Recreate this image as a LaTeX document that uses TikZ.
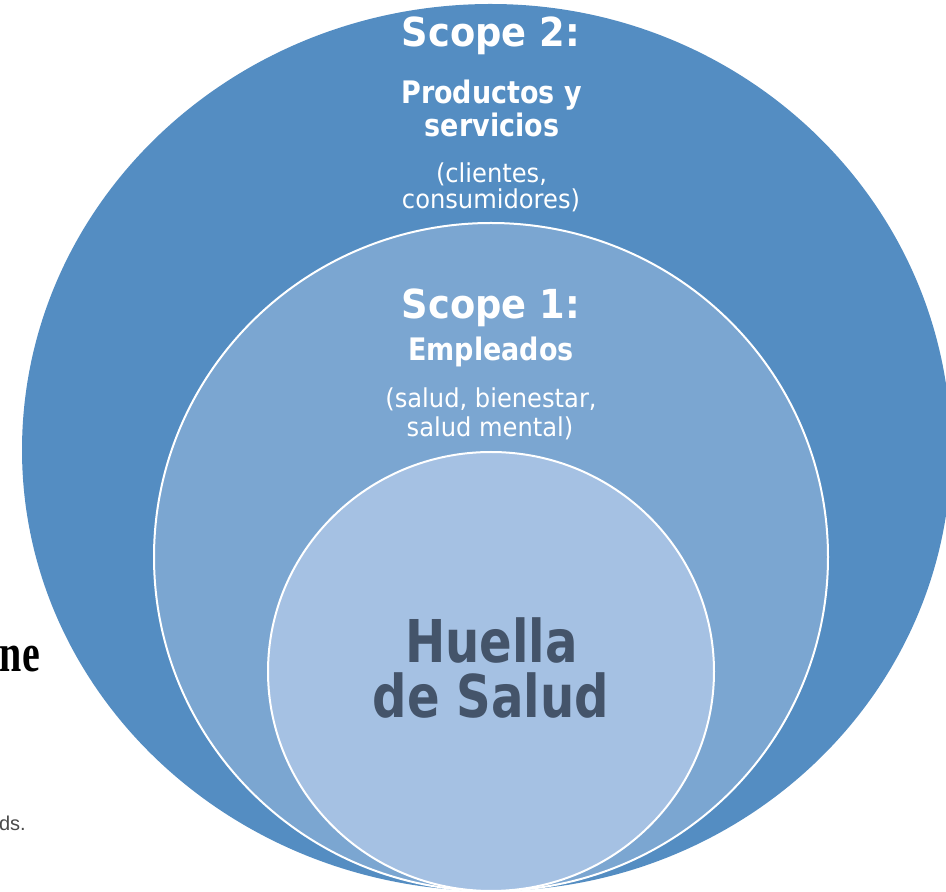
\documentclass[tikz,border=0pt]{standalone}
\usepackage{fontspec}
\setmainfont{DejaVu Sans}
\newfontfamily\scopefnt[FakeStretch=0.92]{DejaVu Sans}
\newfontfamily\subfnt[FakeStretch=0.87]{DejaVu Sans}
\newfontfamily\regfnt[FakeStretch=0.93]{DejaVu Sans}
\newfontfamily\huefont[FakeStretch=0.816]{DejaVu Sans}
\newfontfamily\nefont[FakeStretch=0.74]{Liberation Serif}
\newfontfamily\dsfont{Liberation Sans}
\definecolor{outerc}{HTML}{548DC2}
\definecolor{midc}{HTML}{7BA6D1}
\definecolor{innc}{HTML}{A5C1E3}
\definecolor{huec}{HTML}{44546A}
\definecolor{dsc}{HTML}{4A4A4A}
\begin{document}
\begin{tikzpicture}[x=1pt,y=1pt,
  txt/.style={inner sep=0pt, anchor=base, text=white},
  scopefont/.style={font=\scopefnt\fontsize{40pt}{43pt}\selectfont\bfseries},
  subfont/.style={font=\subfnt\fontsize{31pt}{33pt}\selectfont\bfseries},
  regfont/.style={font=\regfnt\fontsize{26pt}{28pt}\selectfont},
  huefnt/.style={font=\huefont\fontsize{59pt}{62pt}\selectfont\bfseries},
  ring/.style={draw=white, line width=2pt}]
\useasboundingbox (0,0) rectangle (946,892);
\clip (0,0) rectangle (946,892);
% outer shape
\fill[outerc] (22,442) arc[start angle=180,end angle=90,x radius=469,y radius=446]
  arc[start angle=90,end angle=0,x radius=460,y radius=446]
  arc[start angle=0,end angle=-90,x radius=460,y radius=441]
  arc[start angle=270,end angle=180,x radius=469,y radius=441] -- cycle;
% middle and inner
\filldraw[ring, fill=midc] (491,335) ellipse[x radius=337, y radius=334];
\filldraw[ring, fill=innc] (491,220.5) ellipse[x radius=223, y radius=219.5];
% scope 2 texts
\node[txt, scopefont] (scopeA) at (491,845) {Scope 2:};
\node[txt, subfont] (prodA) at (491.5,788) {Productos y};
\node[txt, subfont] (prodB) at (492,755) {servicios};
\node[txt, regfont] (cliA) at (491.5,709) {(clientes,};
\node[txt, regfont] (cliB) at (491,683) {consumidores)};
% scope 1 texts
\node[txt, scopefont] (scopeB) at (491,573) {Scope 1:};
\node[txt, subfont] (empl) at (491,531) {Empleados};
\node[txt, regfont] (salA) at (491,484) {(salud, bienestar,};
\node[txt, regfont] (salB) at (490,455) {salud mental)};
% core
\node[txt, huefnt, text=huec] (hueA) at (491.5,229) {Huella};
\node[txt, huefnt, text=huec] (hueB) at (491,174) {de Salud};
% background fragments
\node[inner sep=0pt, anchor=base east, font=\nefont\fontsize{54pt}{56pt}\selectfont\bfseries, text=black] (frag1) at (40,220) {ne};
\node[inner sep=0pt, anchor=base east, font=\dsfont\fontsize{20pt}{22pt}\selectfont, text=dsc] (frag2) at (26,61) {ds.};
\end{tikzpicture}
\end{document}
